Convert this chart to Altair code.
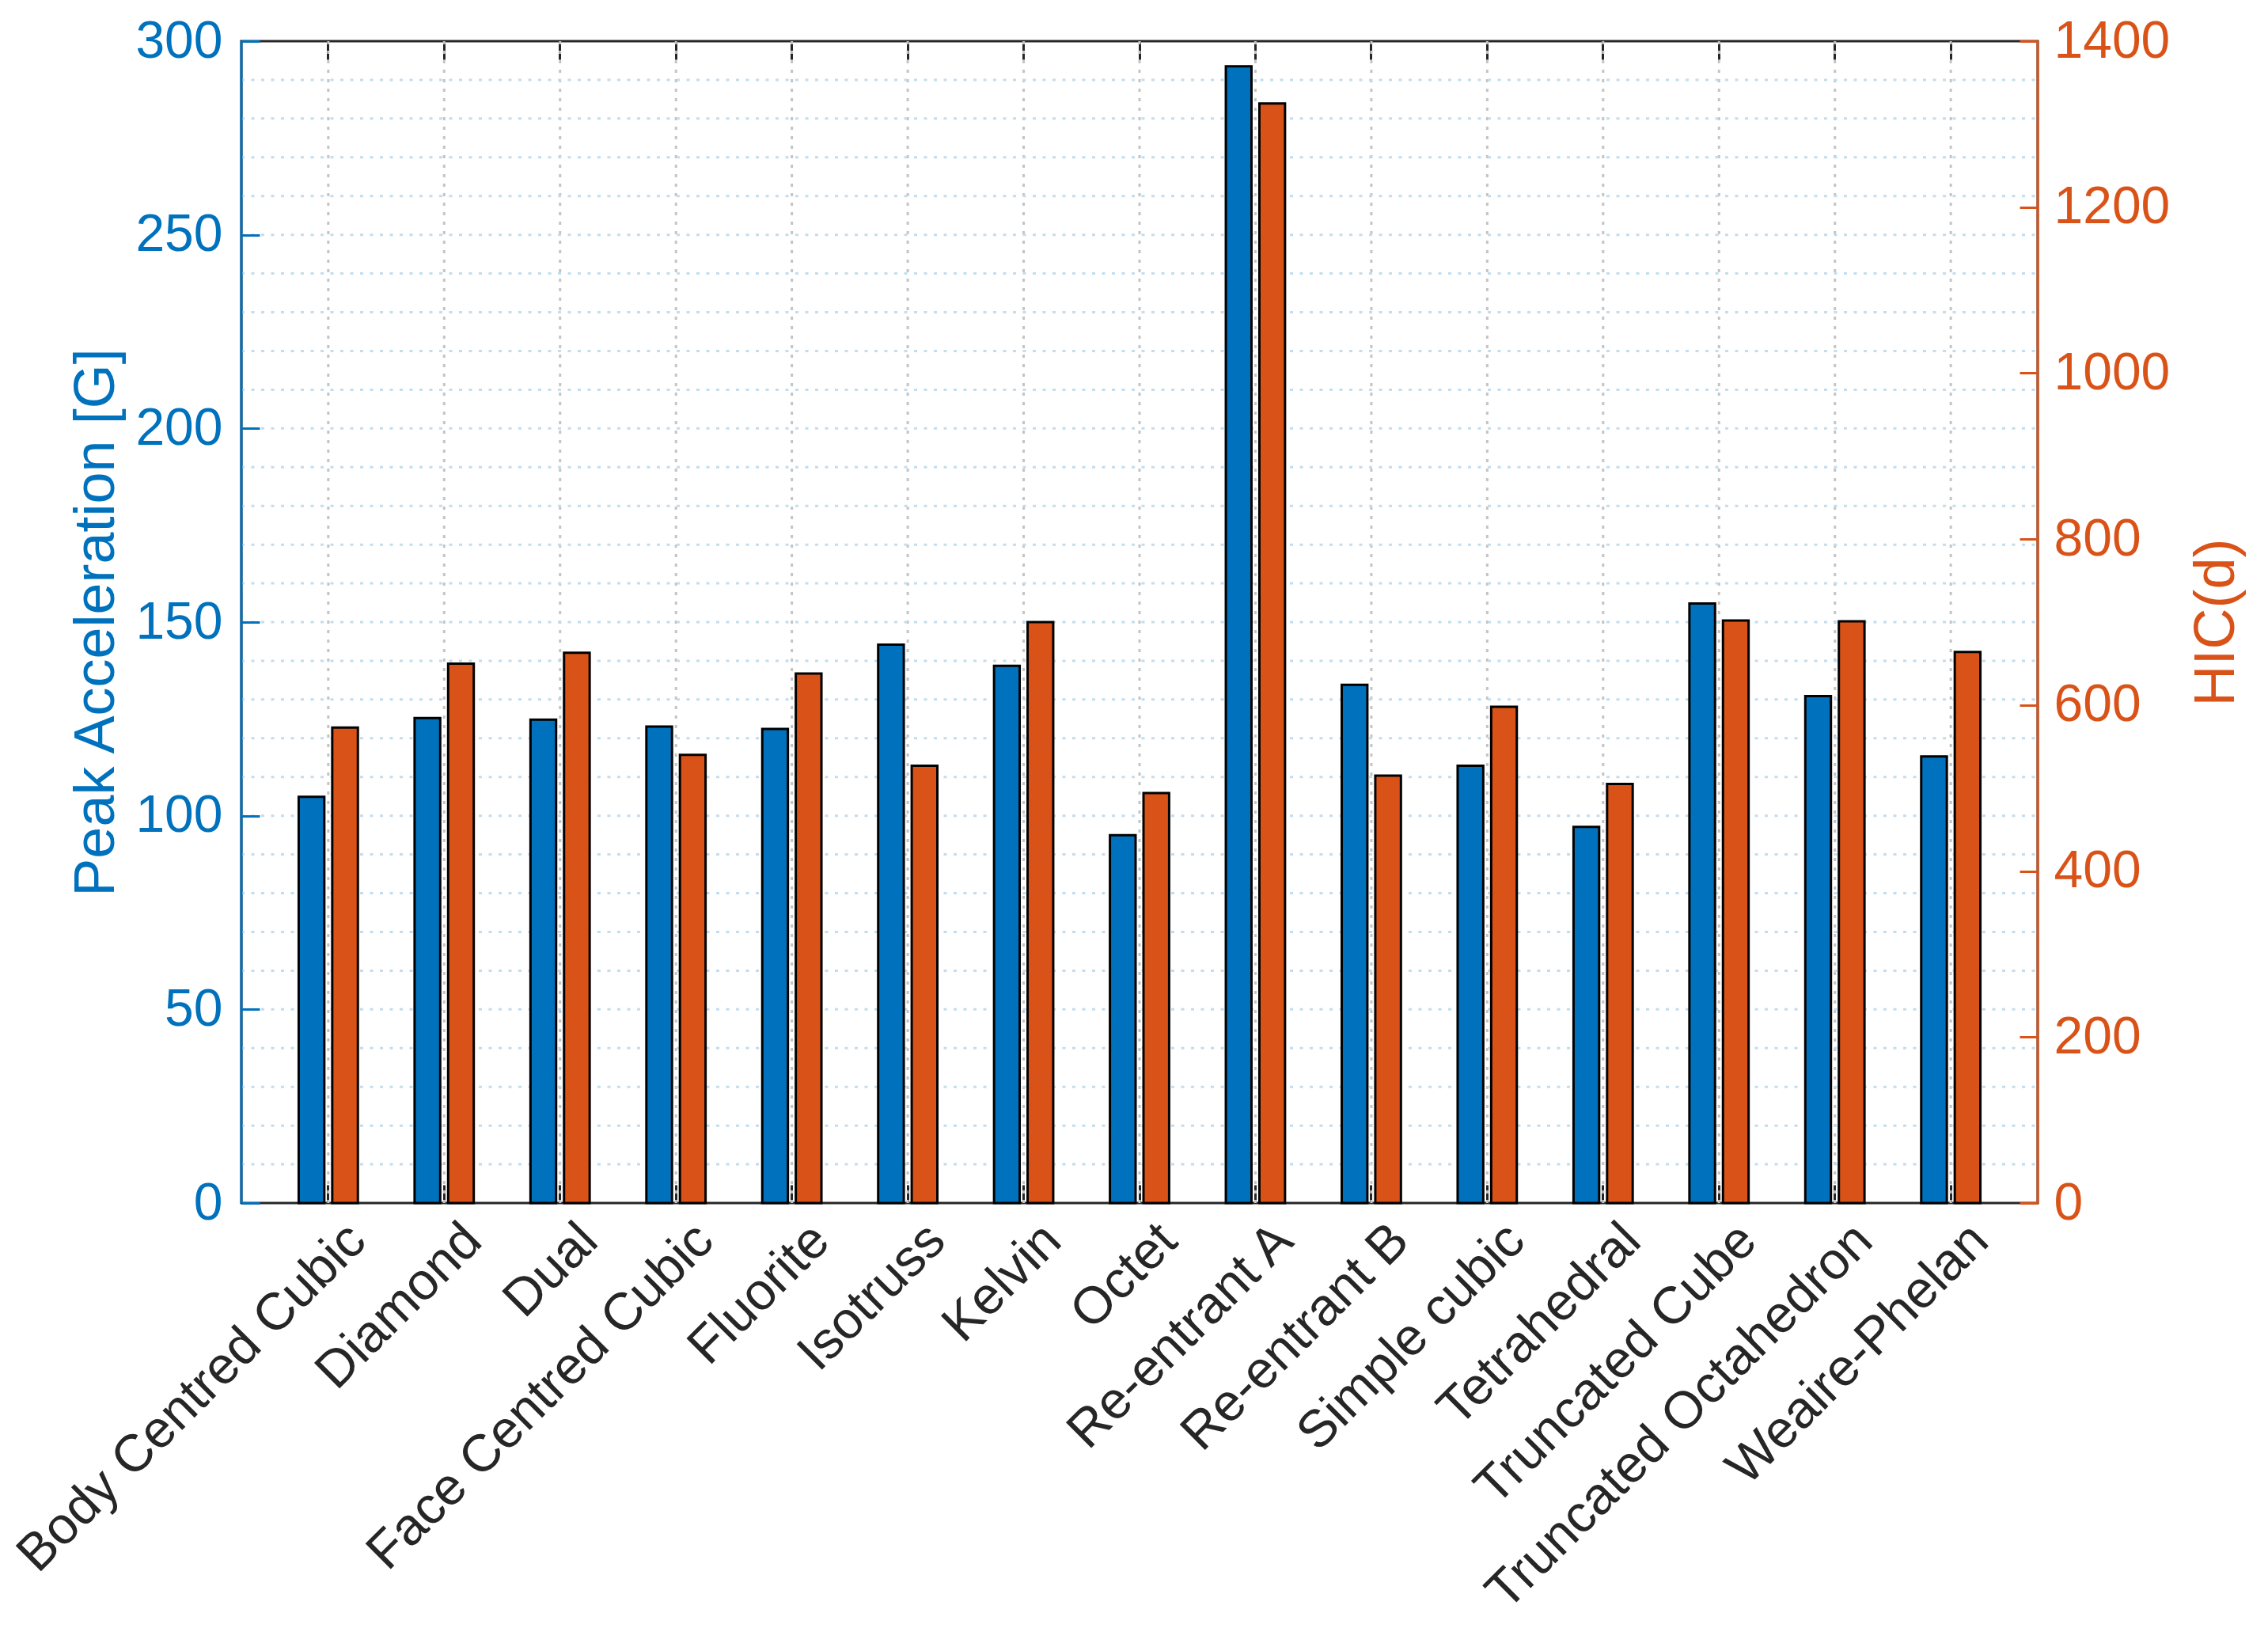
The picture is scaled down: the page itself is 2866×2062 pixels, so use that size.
import altair as alt
import pandas as pd

# ---- data ----
categories = [
    "Body Centred Cubic", "Diamond", "Dual", "Face Centred Cubic", "Fluorite",
    "Isotruss", "Kelvin", "Octet", "Re-entrant A", "Re-entrant B",
    "Simple cubic", "Tetrahedral", "Truncated Cube", "Truncated Octahedron",
    "Weaire-Phelan",
]
peak_acceleration = [104.9, 125.2, 124.8, 123.0, 122.4, 144.2, 138.7, 95.0,
                     293.5, 133.8, 112.9, 97.1, 154.8, 130.9, 115.3]
hic_d = [573, 650, 663, 540, 638, 527, 700, 494, 1325, 515, 598, 505, 702, 701, 664]

left_ticks = [0, 50, 100, 150, 200, 250, 300]
right_ticks = [0, 200, 400, 600, 800, 1000, 1200, 1400]
minor_grid = [10, 20, 30, 40, 50, 60, 70, 80, 90, 100, 110, 120, 130, 140, 150,
              160, 170, 180, 190, 200, 210, 220, 230, 240, 250, 260, 270, 280, 290]
series_names = ["Peak", "HIC"]

# ---- style ----
BLUE = "#0072BD"
ORANGE = "#D95319"
DARK = "#262626"
FONT = "Liberation Sans"
W, H = 2270, 1468
TICK = 23

df = pd.DataFrame({
    "category": categories * 2,
    "series": ["Peak"] * len(categories) + ["HIC"] * len(categories),
    "value": peak_acceleration + hic_d,
})

x_scale = alt.Scale(type="band", domain=categories, paddingInner=0, paddingOuter=0.25)
xoff = alt.XOffset("series:N", scale=alt.Scale(domain=series_names, paddingInner=0.236, paddingOuter=0.845))
y_left_scale = alt.Scale(domain=[0, 300], nice=False, zero=True)
y_right_scale = alt.Scale(domain=[0, 1400], nice=False, zero=True)

vgrid = alt.Chart(pd.DataFrame({"category": categories})).mark_rule(
    color="#C4C4C4", strokeWidth=3, strokeDash=[4, 8]
).encode(
    x=alt.X("category:N", scale=x_scale, axis=None),
    y=alt.value(0), y2=alt.value(H),
)

hgrid = alt.Chart(pd.DataFrame({"g": minor_grid})).mark_rule(
    color="#C2DDEF", strokeWidth=3, strokeDash=[4, 8.5]
).encode(
    y=alt.Y("g:Q", scale=y_left_scale, axis=None),
    x=alt.value(0), x2=alt.value(W),
)

blue = alt.Chart(df).transform_filter(alt.datum.series == "Peak").mark_bar(
    color=BLUE, stroke="black", strokeWidth=3
).encode(
    x=alt.X("category:N", scale=x_scale, axis=alt.Axis(
        orient="bottom", title=None, labelAngle=-45, labelAlign="right",
        labelBaseline="top", labelFont=FONT, labelFontSize=66, labelColor=DARK,
        labelPadding=14, labelOffset=14, labelLimit=2000, labelOverlap=False,
        bandPosition=0.5, tickSize=TICK, tickWidth=3, tickColor=DARK,
        offset=-TICK, domain=False, grid=False)),
    xOffset=xoff,
    y=alt.Y("value:Q", scale=y_left_scale, axis=alt.Axis(
        orient="left", values=left_ticks, format="d", title="Peak Acceleration [G]",
        titleColor=BLUE, titleFont=FONT, titleFontSize=72, titleFontWeight="normal",
        titlePadding=12, labelColor=BLUE, labelFont=FONT, labelFontSize=66,
        labelPadding=24, tickColor=BLUE, tickWidth=3, tickSize=TICK,
        offset=-TICK, domain=False, grid=False, zindex=1)),
)

orange = alt.Chart(df).transform_filter(alt.datum.series == "HIC").mark_bar(
    color=ORANGE, stroke="black", strokeWidth=3
).encode(
    x=alt.X("category:N", scale=x_scale, axis=alt.Axis(
        orient="top", title=None, labels=False, bandPosition=0.5,
        tickSize=TICK, tickWidth=3, tickColor=DARK, offset=-TICK,
        domain=False, grid=False)),
    xOffset=xoff,
    y=alt.Y("value:Q", scale=y_right_scale, axis=alt.Axis(
        orient="right", values=right_ticks, format="d", title="HIC(d)",
        titleColor=ORANGE, titleFont=FONT, titleFontSize=72, titleFontWeight="normal",
        titleAngle=270, titleBaseline="top", titlePadding=24,
        labelColor=ORANGE, labelFont=FONT, labelFontSize=66, labelPadding=20,
        tickColor=ORANGE, tickWidth=3, tickSize=TICK, offset=-TICK,
        domain=False, grid=False, zindex=1)),
)

one = alt.Data(values=[{"k": 1}])
left_border = alt.Chart(one).mark_rule(color=BLUE, strokeWidth=3).encode(
    x=alt.value(0), y=alt.value(0), y2=alt.value(H))
right_border = alt.Chart(one).mark_rule(color=ORANGE, strokeWidth=3).encode(
    x=alt.value(W), y=alt.value(0), y2=alt.value(H))

chart = alt.layer(vgrid, hgrid, blue, orange, left_border, right_border).resolve_scale(
    y="independent"
).properties(
    width=W, height=H,
    padding={"left": 297, "top": 44, "right": 283, "bottom": 534},
    autosize=alt.AutoSizeParams(type="none"),
    background="white",
).configure_view(stroke=DARK, strokeWidth=3)

chart.save("out.html", embed_options={"renderer": "svg", "actions": False})
